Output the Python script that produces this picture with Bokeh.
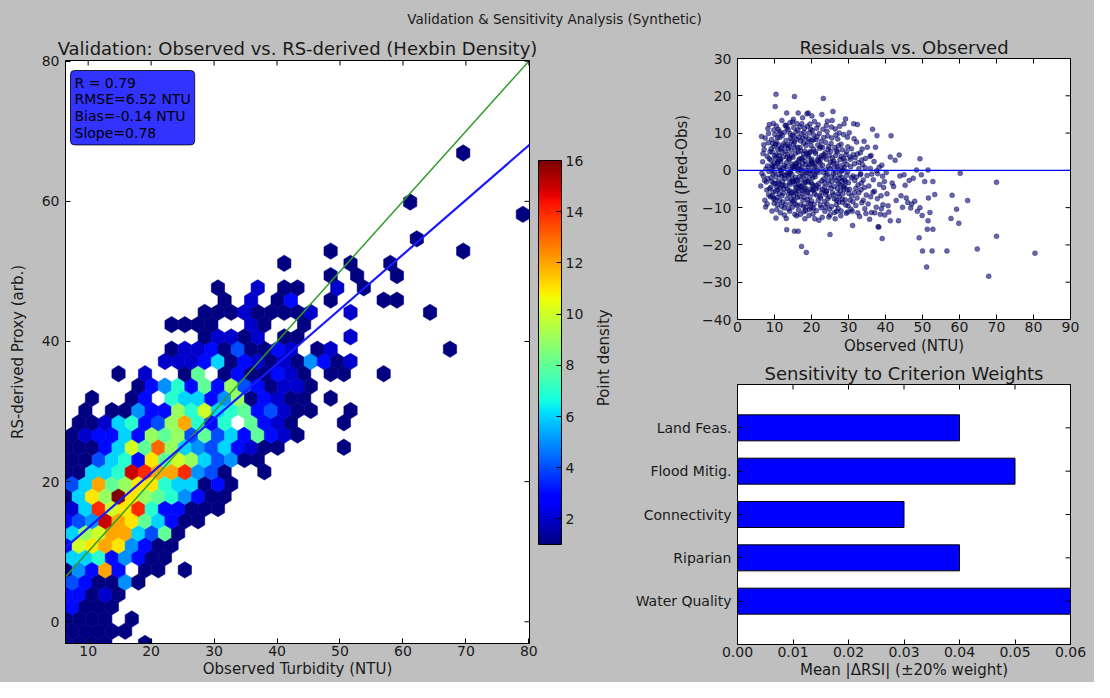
import numpy as np
from bokeh.plotting import figure
from bokeh.layouts import column, row
from bokeh.models import (LinearColorMapper, Label, FixedTicker, ColorBar,
                          Range1d, ColumnDataSource, PrintfTickFormatter, Span)
from bokeh.embed import file_html
from bokeh.resources import INLINE
from bokeh.core.properties import value

FONT = "DejaVu Sans"
BG = "#bfbfbf"
TXT = "#1a1a1a"

# ---------------- data ----------------
suptitle = "Validation & Sensitivity Analysis (Synthetic)"

# hexbin panel: extent of the binned data and grid size
obs_min, obs_max = 6.4, 80.1
pred_min, pred_max = -3.1, 66.9
gridsize = 35
count_min, count_max = 1, 16
# counts per hex cell, one string per half-row (bottom to top); '.' = empty,
# digits 1-9 and a-g = 10-16
hex_counts = [
    "1111..1",
    "11111",
    "1111.1",
    "3111",
    "33121",
    "431151",
    "153c3.11.1",
    "66735311",
    "3abcb5311",
    "69acc6481",
    "345fcb86311",
    "26eabe733111",
    "16b9gb9875311",
    "46c89bb766131",
    "11667fecce541..1",
    "114673b8a964511",
    "11136a8d965463211....1",
    "123363989484638321",
    ".11267349c737.8321...1",
    ".1.1153397a67834211..1",
    "..1..13.76635913211.1",
    ".....13573839431221",
    "....1.2..18.1311321.11..1",
    ".......222361321215312",
    "........1223141132.12........1",
    "..........12212.11...2",
    "........1111..21..1",
    "..........111211112..2.....1",
    "............1.2.13..1...11",
    "...........1..2.11..2.1",
    "." * 20 + "1.1..1",
    "." * 16 + "1....1..1",
    "." * 20 + "1" + "." * 9 + "1",
    "." * 26 + "1",
    "",
    "." * 34 + "1",
    "." * 26 + "1",
    "",
    "",
    "",
    "." * 30 + "1",
]
fit_slope, fit_intercept = 0.78, 5.6
stats_lines = ["R = 0.79", "RMSE=6.52 NTU", "Bias=-0.14 NTU", "Slope=0.78"]

# residual scatter (observed NTU, residual)
resid_points = [
    (6.3,-4.2),(6.5,9.1),(6.8,2.3),(7.0,-1.5),(7.2,5.6),(7.4,-8.0),(7.5,8.7),(7.7,0.4),(7.9,-5.3),(8.0,3.8),
    (6.6,-0.8),(7.1,6.9),(7.8,-3.1),(8.2,11.2),(8.4,-6.6),(6.9,4.5),(7.3,-2.7),(8.1,1.2),(8.3,7.4),(7.6,-9.8),
    (8.5,-0.3),(8.6,12.3),(8.7,-4.9),(8.8,5.0),(8.9,-7.1),
    (9.0,2.7),(9.1,-2.0),(9.2,8.3),(9.3,-10.9),(9.4,4.9),(9.5,0.9),(9.6,-5.8),(9.7,12.6),(9.8,-3.4),(9.9,6.4),
    (10.0,-0.5),(10.1,9.6),(10.2,-7.9),(10.3,3.3),(10.4,-1.8),(10.5,7.7),(10.6,-4.4),(10.7,1.9),(10.8,-9.2),(10.9,5.5),
    (11.0,11.0),(11.1,-2.9),(11.2,4.0),(11.3,-6.3),(11.4,8.8),(11.5,0.1),(11.6,-11.4),(11.7,2.4),(11.8,-3.9),(11.9,6.0),
    (12.0,13.4),(12.1,-0.9),(12.2,-8.5),(12.3,3.6),(12.4,7.1),(12.5,-5.0),(12.6,1.3),(12.7,10.2),(12.8,-2.2),(12.9,5.1),
    (9.4,-6.9),(9.8,10.8),(10.4,-12.8),(10.9,-5.2),(11.3,0.9),(11.7,9.9),(12.2,-3.0),(12.6,-10.1),(9.1,5.8),(9.6,-1.0),
    (10.0,3.9),(10.7,-7.3),(11.1,6.8),(11.8,-0.1),(12.4,-6.1),(12.9,12.1),(10.2,-3.6),(10.9,2.2),(11.5,-4.8),(9.3,1.4),
    (10.5,11.9),(11.9,-9.6),(12.7,-1.4),(9.9,-8.8),(11.2,-1.1),(10.3,7.0),(12.1,4.8),(11.6,3.0),(10.4,20.4),(10.2,17.1),
    (13.0,-4.1),(13.1,8.0),(13.2,1.0),(13.3,15.4),(13.4,-7.6),(13.5,4.3),(13.6,-1.2),(13.7,10.9),(13.8,-10.3),(13.9,2.9),
    (14.0,6.5),(14.1,-3.3),(14.2,12.8),(14.3,-0.4),(14.4,-8.9),(14.5,5.4),(14.6,1.7),(14.7,-5.9),(14.8,9.4),(14.9,-2.5),
    (15.0,3.5),(15.1,13.7),(15.2,-6.8),(15.3,0.6),(15.4,7.6),(15.5,-11.8),(15.6,-1.9),(15.7,4.6),(15.8,10.3),(15.9,-4.6),
    (16.0,2.0),(16.1,-9.4),(16.2,6.2),(16.3,-0.2),(16.4,15.4),(16.5,-3.8),(16.6,8.9),(16.7,-7.0),(16.8,3.1),(16.9,11.7),
    (13.2,-12.9),(13.6,6.9),(14.0,-5.4),(14.4,0.3),(14.8,-9.9),(15.2,11.5),(15.6,-4.0),(16.0,-12.2),(16.4,4.9),(16.8,-1.6),
    (13.4,3.6),(13.9,-2.2),(14.3,8.6),(14.7,-1.1),(15.1,-3.0),(15.5,6.0),(15.9,0.9),(16.3,-5.6),(16.7,1.4),(13.1,12.0),
    (13.8,-6.4),(14.5,-7.7),(15.0,-8.3),(15.8,-6.1),(16.5,-10.6),(14.1,3.2),(15.3,9.1),(16.2,-2.8),(16.9,-4.3),(13.5,-0.7),
    (14.6,7.9),(15.7,-9.0),(16.6,0.2),(14.9,13.0),(15.4,-16.3),(16.4,-16.3),(13.3,-15.9),(16.1,12.6),(14.2,-3.7),(15.6,1.8),
    (15.4,19.8),
    (17.0,5.3),(17.1,-2.4),(17.2,9.8),(17.3,-20.4),(17.4,0.7),(17.5,-6.2),(17.6,14.1),(17.7,3.4),(17.8,-9.6),(17.9,7.3),
    (18.0,-1.3),(18.1,11.3),(18.2,-13.0),(18.3,2.5),(18.4,-4.7),(18.5,6.7),(18.6,-22.0),(18.7,-0.6),(18.8,15.2),(18.9,-7.9),
    (19.0,4.1),(19.1,15.4),(19.2,-3.1),(19.3,8.4),(19.4,-10.5),(19.5,1.5),(19.6,12.4),(19.7,-5.1),(19.8,-0.1),(19.9,6.6),
    (20.0,-8.2),(20.1,3.0),(20.2,10.7),(20.3,-2.0),(20.4,-11.7),(20.5,5.7),(20.6,-4.2),(20.7,0.8),(20.8,13.1),(20.9,-13.0),
    (17.2,-4.4),(17.6,1.9),(18.0,-7.2),(18.4,9.0),(18.8,-2.9),(19.2,3.7),(19.6,-7.0),(20.0,7.9),(20.4,-0.5),(20.8,-6.3),
    (17.4,12.5),(17.8,-3.6),(18.2,5.2),(18.6,0.0),(19.0,-5.8),(19.4,10.0),(19.8,2.6),(20.2,-3.8),(20.6,9.5),(17.1,7.9),
    (17.5,-1.0),(17.9,-11.1),(18.3,-2.4),(18.7,4.6),(19.1,-8.8),(19.5,-1.8),(19.9,-3.2),(20.3,1.8),(20.7,-9.1),(18.5,-9.9),
    (19.3,-12.1),(17.7,-8.0),(20.1,14.6),(18.9,11.8),(17.3,3.1),(19.7,5.0),(20.5,-5.4),(18.1,-5.0),(19.9,-10.0),(20.9,2.0),
    (21.0,-1.7),(21.2,8.3),(21.4,-6.7),(21.6,2.8),(21.8,12.2),(22.0,-3.5),(22.2,5.9),(22.4,-9.3),(22.6,0.5),(22.8,15.0),
    (23.0,-5.2),(23.2,19.3),(23.4,3.6),(23.6,-11.0),(23.8,7.5),(24.0,-1.4),(24.2,10.5),(24.4,-7.6),(24.6,1.1),(24.8,-3.9),
    (25.0,-17.2),(25.2,5.1),(25.4,-9.7),(25.6,13.4),(25.8,15.8),(21.1,4.5),(21.3,-10.8),(21.5,-0.2),(21.7,6.8),(21.9,-4.6),
    (22.1,9.9),(22.3,1.9),(22.5,-7.4),(22.7,3.9),(22.9,-12.6),(23.1,11.0),(23.3,-2.3),(23.5,-8.4),(23.7,4.7),(23.9,0.1),
    (24.1,-5.5),(24.3,13.2),(24.5,-2.7),(24.7,6.3),(24.9,-10.4),(25.1,2.2),(25.3,-4.8),(25.5,8.7),(25.7,-6.0),(25.9,-0.8),
    (21.4,11.3),(22.0,-13.4),(22.6,7.8),(23.2,-0.6),(23.8,-6.4),(24.4,9.2),(25.0,-11.9),(25.6,3.3),(21.8,-8.1),(22.4,2.9),
    (23.0,6.1),(23.6,-3.4),(24.2,-9.0),(24.8,4.0),(25.4,-1.7),(21.2,0.9),(22.8,-5.9),(24.0,12.0),
    (26.0,2.5),(26.2,-7.7),(26.4,-13.0),(26.6,9.5),(26.8,-2.8),(27.0,4.9),(27.2,-10.2),(27.4,0.3),(27.6,11.8),(27.8,-5.5),
    (28.0,7.0),(28.2,-1.9),(28.4,-8.6),(28.6,3.2),(28.8,12.5),(29.0,-4.1),(29.2,13.8),(29.4,-11.5),(29.6,1.6),(29.8,6.3),
    (26.1,-4.3),(26.3,6.1),(26.5,-0.6),(26.7,-9.2),(26.9,1.8),(27.1,8.4),(27.3,-3.6),(27.5,-7.0),(27.7,2.9),(27.9,-12.2),
    (28.1,-0.2),(28.3,5.5),(28.5,-6.3),(28.7,9.6),(28.9,-2.6),(29.1,-7.9),(29.3,4.2),(29.5,-1.3),(29.7,8.9),(29.9,-9.5),
    (26.4,11.1),(27.2,-6.3),(28.0,-10.9),(28.8,0.7),(29.6,-5.2),(26.8,5.3),(27.6,-1.1),(28.4,1.4),(29.2,-2.9),(27.0,-4.9),
    (28.6,-4.4),(29.8,-11.2),(26.2,-11.3),(27.4,-8.5),
    (30.0,-3.3),(30.2,10.1),(30.4,-8.0),(30.6,1.0),(30.8,5.8),(31.0,-11.0),(31.1,-14.8),(31.2,-1.5),(31.4,12.5),(31.6,-6.0),
    (31.8,3.4),(32.0,-9.4),(32.2,7.6),(32.4,12.3),(32.6,-3.9),(32.8,0.4),(33.0,-12.4),(33.2,4.7),(33.4,-5.2),(33.6,-8.7),
    (33.8,1.5),(34.0,-2.6),(34.2,7.8),(34.4,-10.3),(34.6,3.2),(34.8,-6.6),(35.1,6.2),(35.0,-1.4),(30.3,-5.1),(30.7,-10.4),
    (31.3,4.2),(31.7,-2.7),(32.3,-7.4),(32.7,2.1),(33.3,-0.9),(33.7,5.7),(34.3,-4.6),(34.7,-11.6),(30.5,3.0),(31.5,8.5),
    (32.5,-11.4),(33.5,-3.4),(34.5,0.7),(30.9,-6.9),(32.1,-1.8),
    (35.3,-9.0),(35.5,-4.2),(35.8,3.7),(36.0,-7.1),(36.2,-11.3),(36.5,11.0),(36.7,-2.5),(37.0,-5.6),(37.3,6.2),(37.5,-9.9),
    (37.7,9.3),(37.9,-0.9),(38.0,-15.1),(38.2,-15.2),(38.4,-3.8),(38.6,-11.8),(38.8,-6.8),(39.0,1.4),(39.1,-18.3),(39.3,-9.2),
    (39.5,-4.6),(39.8,-12.0),(35.7,-13.1),(36.3,-1.0),(36.9,2.4),(37.6,-0.1),(38.3,0.8),(39.2,-1.6),(35.9,0.5),(36.6,-5.9),
    (37.1,-11.4),(37.8,-7.6),(38.9,-10.3),(39.7,-3.0),(36.1,4.0),
    (40.2,-0.6),(40.4,-6.3),(40.7,-9.5),(40.9,-11.2),(41.3,3.6),(41.5,9.3),(41.3,-13.5),(41.8,-3.4),(42.2,-4.3),(42.6,2.7),
    (42.9,-8.1),(43.5,-13.5),(43.7,4.1),(43.9,-1.5),(44.2,-6.8),(44.6,-9.9),(45.0,-1.2),(45.3,-4.0),(45.6,-7.4),(46.0,-8.6),
    (46.4,-2.7),(46.8,-10.1),(47.1,-9.0),(47.5,-2.1),(47.9,-8.3),(48.4,0.1),(48.6,-11.0),(49.1,-18.1),(49.3,3.1),(49.3,-10.0),
    (49.7,-1.2),(49.9,-12.1),
    (50.0,-21.6),(50.6,-3.0),(51.1,-25.9),(51.3,-15.8),(51.5,0.1),(51.5,-13.5),(51.6,-7.4),(52.0,-11.3),(52.6,-21.6),(52.8,-3.0),
    (52.8,-15.8),(53.3,-6.5),(56.6,-21.6),(57.7,-12.9),(58.0,-6.7),(59.2,-10.4),(59.8,-14.2),(60.2,-0.8),(62.2,-8.1),(64.8,-21.1),
    (67.9,-28.4),(70.0,-3.2),(70.0,-17.7),(80.4,-22.2),
    (8.2,-2.2),(8.6,3.1),(9.0,-4.5),(9.2,0.3),(9.5,7.2),(9.7,-7.5),(10.1,1.0),(10.3,-5.6),(10.6,4.2),(10.8,8.9),
    (11.0,-3.5),(11.2,2.8),(11.4,-8.1),(11.6,5.7),(11.9,-1.6),(12.1,9.3),(12.3,-4.0),(12.5,0.6),(12.8,6.6),(13.0,-9.1),
    (13.3,2.1),(13.5,-5.0),(13.7,5.9),(14.0,-0.9),(14.2,9.9),(14.4,-6.2),(14.6,3.9),(14.9,-3.0),(15.1,7.0),(15.3,-8.0),
    (15.5,1.2),(15.8,-2.6),(16.0,8.3),(16.2,-7.3),(16.5,2.6),(16.7,-4.8),(16.9,6.1),(17.1,-9.2),(17.3,0.1),(17.6,-5.5),
    (17.8,4.4),(18.0,10.2),(18.3,-3.3),(18.5,1.6),(18.8,-6.0),(19.0,7.7),(19.3,-0.8),(19.5,4.8),(19.8,-9.0),(20.0,2.2),
    (20.3,-5.2),(20.5,8.2),(20.8,-1.2),(21.0,5.0),(21.3,-4.0),(21.5,9.0),(21.8,-0.6),(22.0,3.4),(22.3,-6.9),(22.5,6.4),
    (22.8,-2.8),(23.0,1.4),(23.3,8.8),(23.5,-4.5),(23.8,-9.8),(24.0,3.0),(24.3,-1.0),(24.5,5.6),(24.8,-7.1),(25.0,0.4),
    (25.3,7.2),(25.5,-3.0),(25.8,2.0),(26.0,-6.6),(26.3,-2.0),(26.5,4.0),(26.8,-8.0),(27.0,1.0),(27.3,6.6),(27.5,-2.2),
    (27.8,-4.0),(28.0,3.8),(28.3,-7.7),(28.5,0.0),(28.8,-5.0),(29.0,2.6),(29.3,-9.3),(29.5,5.0),(29.8,-0.4),(30.1,-6.2),
    (30.4,3.6),(30.8,-2.0),(31.2,-8.4),(31.6,1.8),(32.0,-4.8),(32.4,4.4),(32.8,-6.0),(33.2,-1.2),(33.6,2.8),(34.0,-8.0),
    (8.0,-9.0),(8.4,9.9),(9.3,-3.0),(9.9,2.0),(10.6,-10.5),(11.3,10.4),(12.0,-6.8),(12.7,-12.0),(13.4,11.4),(14.1,-11.0),
    (14.8,1.0),(15.5,-5.5),(16.3,10.8),(17.0,-11.8),(17.7,8.6),(18.4,-10.8),(19.1,0.9),(19.8,11.0),(20.5,-10.2),(21.2,-5.0),
    (21.9,2.4),(22.6,-10.0),(23.3,4.2),(24.0,-5.8),(24.7,-12.5),(25.4,11.6),(26.1,0.8),(26.8,-11.0),(27.5,10.0),(28.2,-3.0),
]
resid_xlim = (0, 90)
resid_ylim = (-40, 30)

criteria = ["Water Quality", "Riparian", "Connectivity", "Flood Mitig.", "Land Feas."]
sensitivity = [0.06, 0.04, 0.03, 0.05, 0.04]

# ---------------- helpers ----------------
t = np.linspace(0, 1, 256)
_r = np.interp(t, [0, 0.35, 0.66, 0.89, 1], [0, 0, 1, 1, 0.5])
_g = np.interp(t, [0, 0.125, 0.375, 0.64, 0.91, 1], [0, 0, 1, 1, 0, 0])
_b = np.interp(t, [0, 0.11, 0.34, 0.65, 1], [0.5, 1, 1, 0, 0])
jet = ["#%02x%02x%02x" % (int(round(255 * a)), int(round(255 * b)), int(round(255 * c)))
       for a, b, c in zip(_r, _g, _b)]
mapper = LinearColorMapper(palette=jet, low=count_min, high=count_max)


def style(p, standoff=3):
    p.background_fill_color = "white"
    p.border_fill_color = BG
    p.outline_line_color = "black"
    p.outline_line_width = 1
    p.xgrid.visible = False
    p.ygrid.visible = False
    p.title.text_font = FONT
    p.title.text_font_size = "18px"
    p.title.text_font_style = "normal"
    p.title.align = "center"
    p.title.text_color = TXT
    p.title.standoff = standoff
    for ax in p.axis:
        ax.major_tick_in = 5
        ax.major_tick_out = 0
        ax.minor_tick_line_color = None
        ax.axis_line_color = "black"
        ax.major_label_text_font = FONT
        ax.major_label_text_font_size = "14px"
        ax.major_label_text_color = TXT
        ax.axis_label_text_font = FONT
        ax.axis_label_text_font_size = "15px"
        ax.axis_label_text_font_style = "normal"
        ax.axis_label_text_color = TXT


def mirror_ticks(p, xticks, top, yticks, right):
    # tick marks on the top and right spines (inward), like the classic style
    p.scatter(xticks, [top] * len(xticks), marker="dash", angle=np.pi / 2, size=10,
              line_color="black", line_width=1)
    p.scatter([right] * len(yticks), yticks, marker="dash", size=10,
              line_color="black", line_width=1)


# ---------------- suptitle strip ----------------
p0 = figure(width=1094, height=30, x_range=Range1d(0, 1), y_range=Range1d(0, 1),
            x_axis_location=None, y_axis_location=None, toolbar_location=None,
            output_backend="svg", min_border=0)
p0.outline_line_color = None
p0.background_fill_color = BG
p0.border_fill_color = BG
p0.grid.visible = False
p0.add_layout(Label(x=0.5, y=0.38, x_offset=7, text=suptitle, text_align="center",
                    text_baseline="middle", text_font=FONT, text_font_size="13.5px",
                    text_color=TXT))

# ---------------- hexbin panel ----------------
sx = (obs_max - obs_min) / gridsize
ny = int(gridsize / np.sqrt(3))
sy = (pred_max - pred_min) / ny
hx, hy, hc = [], [], []
for k, rowstr in enumerate(hex_counts):
    for m, ch in enumerate(rowstr):
        if ch == ".":
            continue
        hx.append(obs_min + (m + 0.5 * (k % 2)) * sx)
        hy.append(pred_min + k * sy / 2)
        hc.append(int(ch, 17))
hex_src = ColumnDataSource(dict(
    xs=[[x + sx / 2, x + sx / 2, x, x - sx / 2, x - sx / 2, x] for x in hx],
    ys=[[y - sy / 6, y + sy / 6, y + sy / 3, y + sy / 6, y - sy / 6, y - sy / 3] for y in hy],
    c=hc))

pL = figure(width=595, height=652, x_range=Range1d(obs_min, obs_max),
            y_range=Range1d(pred_min, obs_max),
            title="Validation: Observed vs. RS-derived (Hexbin Density)",
            output_backend="svg", toolbar_location=None,
            min_border_left=65, min_border_right=64, min_border_top=30, min_border_bottom=39)
pL.patches("xs", "ys", source=hex_src,
           fill_color={"field": "c", "transform": mapper},
           line_color={"field": "c", "transform": mapper}, line_width=0.6)
pL.line([obs_min, obs_max], [obs_min, obs_max], line_color="#2e9e2e", line_width=1.5)
pL.line([obs_min, obs_max], [fit_slope * obs_min + fit_intercept, fit_slope * obs_max + fit_intercept],
        line_color="#1a1aff", line_width=2.2)
style(pL, 3)
xtL = [10, 20, 30, 40, 50, 60, 70, 80]
ytL = [0, 20, 40, 60, 80]
pL.xaxis.ticker = FixedTicker(ticks=xtL)
pL.yaxis.ticker = FixedTicker(ticks=ytL)
pL.xaxis.axis_label = "Observed Turbidity (NTU)"
pL.yaxis.axis_label = "RS-derived Proxy (arb.)"
pL.xaxis.major_label_standoff = 2
pL.xaxis.axis_label_standoff = 1
pL.yaxis.major_label_standoff = 6
pL.yaxis.axis_label_standoff = 12
mirror_ticks(pL, xtL, obs_max, ytL, obs_max)

stats = Label(x=obs_min, y=obs_max, x_offset=5, y_offset=-10, text="\n".join(stats_lines),
              text_font=FONT, text_font_size="14px", text_color="black",
              text_align="left", text_baseline="top", text_line_height=1.05,
              background_fill_color="blue", background_fill_alpha=0.8,
              border_line_color="black", border_line_alpha=0.8)
for attr, val in (("padding", 4), ("border_radius", 4)):
    try:
        setattr(stats, attr, val)
    except Exception:
        pass
pL.add_layout(stats)

cbar = ColorBar(color_mapper=mapper, ticker=FixedTicker(ticks=list(range(2, count_max + 1, 2))),
                width=23, height=384, location="center_left", padding=9,
                label_standoff=4, major_tick_in=5, major_tick_out=0,
                major_tick_line_color="black", bar_line_color="black",
                background_fill_color=None, border_line_color=None,
                major_label_text_font=FONT, major_label_text_font_size="14px",
                major_label_text_color=TXT)
pL.add_layout(cbar, "right")

# colorbar label (rotated text), in a thin strip next to the colorbar
pLab = figure(width=27, height=652, x_range=Range1d(0, 27), y_range=Range1d(0, 1),
              x_axis_location=None, y_axis_location=None, toolbar_location=None,
              output_backend="svg", min_border_left=0, min_border_right=0,
              min_border_top=30, min_border_bottom=39)
pLab.outline_line_color = None
pLab.background_fill_color = BG
pLab.border_fill_color = BG
pLab.grid.visible = False
pLab.text(x=[8], y=[0.49], text=["Point density"], angle=np.pi / 2, text_align="center",
          text_baseline="middle", text_font=value(FONT), text_font_size="15px",
          text_color=TXT)

# ---------------- residuals ----------------
pRT = figure(width=472, height=328, x_range=Range1d(*resid_xlim), y_range=Range1d(*resid_ylim),
             title="Residuals vs. Observed", output_backend="svg", toolbar_location=None,
             min_border_left=115, min_border_right=24, min_border_top=28, min_border_bottom=39)
pRT.scatter([p[0] for p in resid_points], [p[1] for p in resid_points], size=5,
            fill_color="#000080", fill_alpha=0.6, line_color="#000030", line_alpha=0.6,
            line_width=0.5)
pRT.add_layout(Span(location=0, dimension="width", line_color="#0000ff", line_width=1.4))
style(pRT, 2)
xt = list(range(resid_xlim[0], resid_xlim[1] + 1, 10))
yt = list(range(resid_ylim[0], resid_ylim[1] + 1, 10))
pRT.xaxis.ticker = FixedTicker(ticks=xt)
pRT.yaxis.ticker = FixedTicker(ticks=yt)
pRT.yaxis.major_label_overrides = {v: ("\u2212%d" % -v if v < 0 else str(v)) for v in yt}
pRT.xaxis.axis_label = "Observed (NTU)"
pRT.yaxis.axis_label = "Residual (Pred-Obs)"
pRT.xaxis.major_label_standoff = 2
pRT.xaxis.axis_label_standoff = 2
pRT.yaxis.major_label_standoff = 6
pRT.yaxis.axis_label_standoff = 8
mirror_ticks(pRT, xt, resid_ylim[1], yt, resid_xlim[1])

# ---------------- sensitivity ----------------
ypos = list(range(len(criteria)))
pRB = figure(width=472, height=324, x_range=Range1d(0, max(sensitivity)),
             y_range=Range1d(-1, len(criteria)),
             title="Sensitivity to Criterion Weights", output_backend="svg",
             toolbar_location=None, min_border_left=115, min_border_right=24,
             min_border_top=26, min_border_bottom=38)
pRB.hbar(y=ypos, right=sensitivity, left=0, height=0.6, fill_color="#0000ff",
         line_color="black", line_width=1)
style(pRB, 2)
st = [i / 100 for i in range(0, 7)]
pRB.xaxis.ticker = FixedTicker(ticks=st)
pRB.xaxis.formatter = PrintfTickFormatter(format="%.2f")
pRB.yaxis.ticker = FixedTicker(ticks=ypos)
pRB.yaxis.major_label_overrides = {i: c for i, c in enumerate(criteria)}
pRB.xaxis.axis_label = "Mean |\u0394RSI| (\u00b120% weight)"
pRB.xaxis.major_label_standoff = 2
pRB.xaxis.axis_label_standoff = 1
pRB.yaxis.major_label_standoff = 6
mirror_ticks(pRB, st, len(criteria), ypos, max(sensitivity))

bgs = {"background-color": BG}
layout = column(p0,
                row(pL, pLab, column(pRT, pRB, styles=bgs), styles=bgs),
                styles=bgs)
open("out.html", "w").write(file_html(layout, INLINE))
